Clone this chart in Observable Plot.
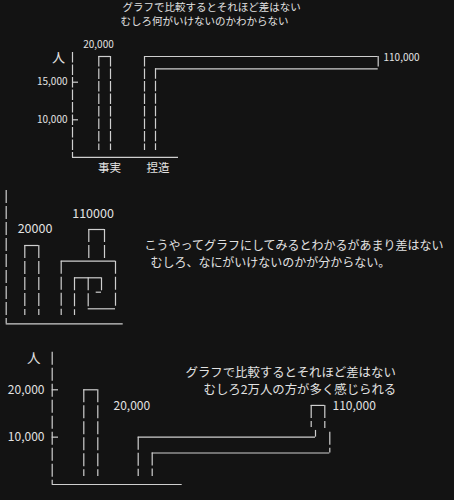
<!DOCTYPE html>
<html><head><meta charset="utf-8">
<script src="https://cdn.jsdelivr.net/npm/d3@7"></script>
<script src="https://cdn.jsdelivr.net/npm/@observablehq/plot@0.6"></script>
<style>
html,body{margin:0;padding:0;background:#131313;}
#chart{position:relative;width:454px;height:500px;background:#131313;overflow:hidden;}
#chart svg{position:absolute;left:0;top:0;}
</style></head><body><div id="chart"></div>
<script>
// ---- data ----
const categories = ["事実", "捏造"];
const values = [20000, 110000];
const unitLabel = "人";
const ticksTop = [15000, 10000];
const ticksBottom = [20000, 10000];
const captionTop = ["グラフで比較するとそれほど差はない", "むしろ何がいけないのかわからない"];
const captionMiddle = ["こうやってグラフにしてみるとわかるがあまり差はない", "むしろ、なにがいけないのかが分からない。"];
const captionBottom = ["グラフで比較するとそれほど差はない", "むしろ2万人の方が多く感じられる"];

const comma = d3.format(",");
const ink = "#cfcfcf";
const textInk = "#e2e2e2";
const font = "'Noto Sans CJK JP', 'Noto Sans', sans-serif";

function panel({y, dash, verts, hors, texts}) {
  const marks = [
    Plot.ruleX(verts, {x: d => d[0], y1: d => d[1], y2: d => d[2], stroke: ink, strokeWidth: 1.2, strokeDasharray: dash}),
    Plot.ruleY(hors, {y: d => d[0], x1: d => d[1], x2: d => d[2], stroke: ink, strokeWidth: 1.2})
  ];
  for (const t of texts) {
    marks.push(Plot.text([t], {
      x: d => d.x, y: d => d.y, text: d => d.text,
      textAnchor: t.anchor || "middle", fontSize: t.size, dy: t.dy || 0,
      fill: textInk, fontFamily: font
    }));
  }
  return Plot.plot({
    width: 454, height: 500, margin: 0,
    style: {background: "transparent", fontFamily: font, overflow: "visible"},
    x: {type: "linear", domain: [0, 454], range: [0, 454], axis: null},
    y: {type: "linear", ...y, axis: null},
    marks
  });
}

const root = document.getElementById("chart");

// ---- panel 1: truncated axis, long bar bent sideways ----
{
  const [v0] = values;
  const inner = 17607, bottom = 5918, base = 5000;
  root.append(panel({
    y: {domain: [5000, 10000, 15000, 20000], range: [156.9, 119.3, 81.7, 56]},
    dash: "10.5,2",
    verts: [
      [72, 20778, base],
      [98.3, v0, bottom], [110, v0, bottom],
      [144, v0, bottom], [155, inner, bottom],
      [377.7, v0, inner]
    ],
    hors: [
      [base, 72, 178],
      ...ticksTop.map(t => [t, 72, 78]),
      [v0, 98.3, 110],
      [v0, 144, 377.7],
      [inner, 155, 377.7]
    ],
    texts: [
      {x: 122, y: 29500, text: captionTop[0], size: 10.5, anchor: "start"},
      {x: 120, y: 26800, text: captionTop[1], size: 10.5, anchor: "start"},
      {x: 58, y: 19800, text: unitLabel, size: 13},
      ...ticksTop.map(t => ({x: 67, y: t, text: comma(t), size: 10, anchor: "end"})),
      {x: 98, y: values[0], dy: -12, text: comma(values[0]), size: 10},
      {x: 383, y: v0, dy: 1, text: comma(values[1]), size: 10, anchor: "start"},
      {x: 109, y: base, dy: 11, text: categories[0], size: 11.5},
      {x: 157.5, y: base, dy: 11, text: categories[1], size: 11.5}
    ]
  }));
}

// ---- panel 2: long bar coiled into a spiral ----
{
  const [v0] = values;
  const bottom = 2120, box = 15990, chimney = 24087, inner = 11750, hook = 8072, floor = 3831;
  root.append(panel({
    y: {domain: [0, 20000], range: [323.3, 245]},
    dash: "13,3",
    verts: [
      [5.7, 34049, 0],
      [24.3, v0, bottom], [38.3, v0, bottom],
      [60.7, box, bottom], [88.3, chimney, box], [104, chimney, box],
      [115, box, floor], [87.7, inner, floor],
      [74, inner, bottom], [101, inner, hook]
    ],
    hors: [
      [0, 5.7, 122.7],
      [v0, 24.3, 38.3],
      [box, 60.7, 115], [chimney, 88.3, 104], [floor, 87.7, 115],
      [inner, 74, 101], [hook, 95.7, 101]
    ],
    texts: [
      {x: 34.5, y: 24087, text: String(values[0]), size: 12.5},
      {x: 92.5, y: 28097, text: String(values[1]), size: 12.5},
      {x: 144, y: 19740, text: captionMiddle[0], size: 12, anchor: "start"},
      {x: 150, y: 15580, text: captionMiddle[1], size: 12, anchor: "start"}
    ]
  }));
}

// ---- panel 3: zero-based axis, long bar folded low ----
{
  const [v0] = values;
  const bottom = 1690, fold = 10000, inner = 6652, cap = 16702;
  root.append(panel({
    y: {domain: [0, 20000], range: [484, 389.3]},
    dash: "13,3",
    verts: [
      [51.7, 27940, 0],
      [83.3, v0, bottom], [97.3, v0, bottom],
      [137.7, fold, bottom], [151.7, inner, bottom],
      [315, 11416, fold], [310.7, cap, 12051],
      [324.3, cap, 11839], [329.3, 11057, inner]
    ],
    hors: [
      [0, 51.7, 181.7],
      ...ticksBottom.map(t => [t, 51.7, 58]),
      [v0, 83.3, 97.3],
      [fold, 137.7, 315],
      [cap, 310.7, 324.3],
      [inner, 151.7, 329.3]
    ],
    texts: [
      {x: 33.3, y: 26547, text: unitLabel, size: 13.5},
      ...ticksBottom.map(t => ({x: 44, y: t, text: comma(t), size: 12, anchor: "end"})),
      {x: 113, y: 16536, text: comma(values[0]), size: 12, anchor: "start"},
      {x: 332, y: cap, dy: 1, text: comma(values[1]), size: 12, anchor: "start"},
      {x: 185, y: 23500, text: captionBottom[0], size: 12.4, anchor: "start"},
      {x: 203, y: 19960, text: captionBottom[1], size: 12.4, anchor: "start"}
    ]
  }));
}
</script></body></html>
